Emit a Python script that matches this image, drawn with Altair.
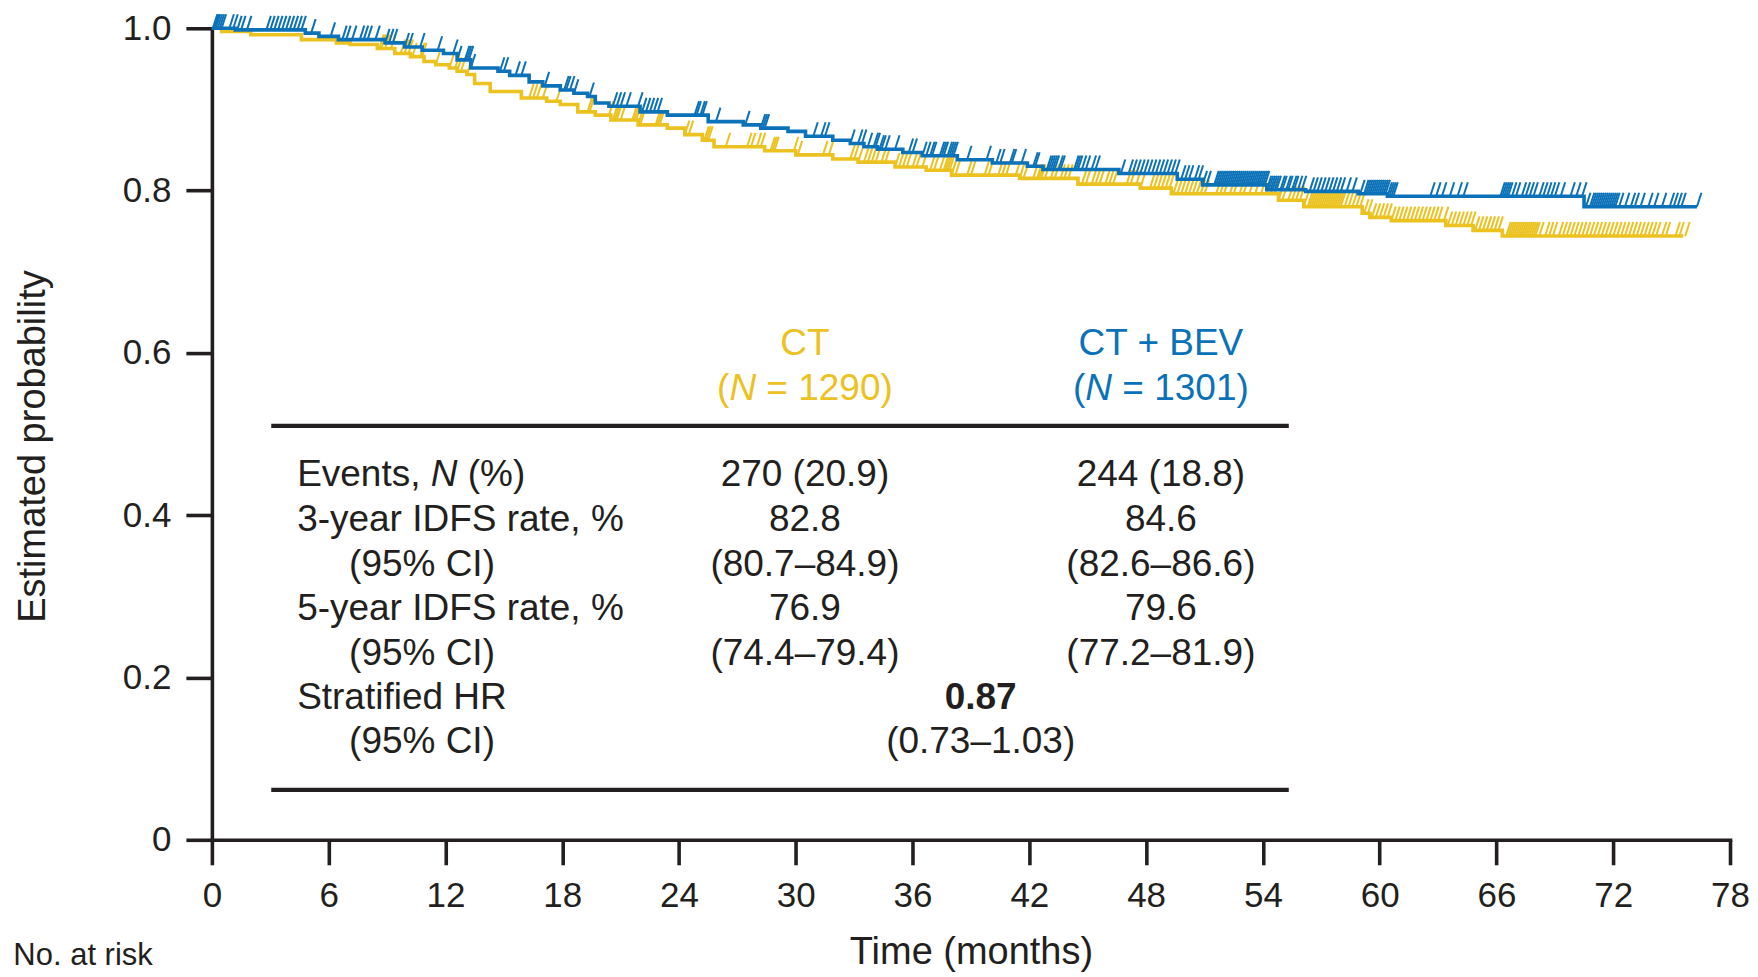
import bisect
import altair as alt
import pandas as pd

# ---------------- data ----------------
ARMS = ["CT", "CT + BEV"]

CT_T = [0, 0.5, 2.0, 4.6, 6.4, 7.1, 8.5, 9.4, 10.2, 10.9, 11.5, 12.2, 12.6, 13.1, 13.5,
        14.3, 15.9, 17.2, 17.9, 18.8, 19.7, 20.5, 21.9, 23.4, 24.3, 25.2, 25.8, 28.4, 30.0,
        31.9, 33.2, 35.1, 36.7, 38.0, 41.5, 44.5, 47.7, 49.3, 54.8, 56.1, 59.1, 59.5, 60.6,
        63.4, 64.8, 66.3]
CT_S = [1.0, 0.996, 0.992, 0.986, 0.982, 0.980, 0.975, 0.969, 0.965, 0.959, 0.955, 0.951,
        0.947, 0.943, 0.932, 0.922, 0.914, 0.910, 0.906, 0.897, 0.893, 0.887, 0.881, 0.877,
        0.869, 0.862, 0.854, 0.849, 0.844, 0.839, 0.835, 0.829, 0.825, 0.819, 0.815, 0.808,
        0.803, 0.796, 0.788, 0.780, 0.772, 0.767, 0.763, 0.757, 0.751, 0.744]
CT_END = 75.6

BEV_T = [0, 1.2, 4.8, 5.5, 6.5, 8.9, 9.9, 10.8, 11.9, 12.6, 13.3, 14.7, 15.3, 16.3, 17.0,
         17.9, 18.6, 19.3, 19.7, 20.4, 22.0, 23.4, 25.5, 27.3, 28.2, 29.6, 30.5, 31.9, 32.8,
         33.5, 34.2, 35.5, 36.5, 38.3, 40.1, 41.9, 42.7, 46.6, 49.6, 50.9, 54.2, 56.2, 58.9,
         60.4, 70.5]
BEV_S = [1.0, 0.998, 0.994, 0.990, 0.986, 0.982, 0.977, 0.973, 0.969, 0.961, 0.951, 0.947,
         0.942, 0.934, 0.929, 0.924, 0.920, 0.916, 0.908, 0.904, 0.897, 0.893, 0.885, 0.881,
         0.877, 0.873, 0.867, 0.862, 0.858, 0.854, 0.851, 0.847, 0.843, 0.838, 0.834, 0.830,
         0.826, 0.821, 0.814, 0.807, 0.801, 0.799, 0.796, 0.793, 0.780]
BEV_END = 76.3

CT_CENSOR = [8.6, 8.7, 8.9, 9.2, 9.7, 9.9, 10.1, 10.3, 10.7, 10.8, 11.5, 12.2, 12.5, 12.6, 12.8,
             13.1, 16.3, 16.5, 16.7, 17.0, 17.7, 19.3, 19.4, 20.4, 20.6, 20.7, 20.8, 21.0, 21.6,
             21.7, 21.8, 21.9, 22.0, 22.8, 22.9, 23.0, 24.3, 24.5, 25.3, 25.4, 25.5, 26.4, 27.5,
             27.7, 28.0, 28.2, 28.7, 28.8, 28.9, 29.9, 30.1, 31.4, 31.7, 32.8, 33.0, 33.2, 33.5,
             33.7, 33.9, 34.1, 34.4, 34.6, 35.1, 35.3, 35.5, 35.7, 36.0, 36.2, 36.5, 36.9, 37.1,
             37.4, 37.6, 37.7, 37.8, 37.9, 38.0, 38.2, 38.8, 39.0, 39.7, 39.9, 40.4, 40.6, 40.8,
             41.3, 41.5, 41.7, 42.2, 42.4, 42.5, 42.6, 42.8, 43.1, 43.3, 43.6, 43.8, 44.0, 44.7,
             44.9, 45.2, 45.4, 45.6, 45.9, 46.1, 46.3, 47.0, 47.2, 47.5, 47.7, 48.2, 48.4, 48.6,
             48.8, 49.0, 49.2, 49.4, 49.6, 49.8, 50.0, 50.2, 50.4, 50.6, 50.8, 51.0, 51.6, 51.8,
             52.0, 52.3, 52.5, 52.8, 53.0, 53.3, 53.6, 53.9, 54.2, 54.4, 54.6, 54.8, 55.0, 55.3,
             55.5, 55.7, 55.9, 56.1, 56.3, 56.4, 56.5, 56.6, 56.7, 56.8, 56.9, 57.0, 57.1, 57.2,
             57.3, 57.4, 57.5, 57.6, 57.7, 57.8, 57.9, 58.0, 58.2, 58.4, 58.6, 58.8, 59.0, 59.2,
             59.4, 59.6, 59.8, 60.0, 60.2, 60.4, 60.6, 60.8, 61.0, 61.2, 61.4, 61.6, 61.8, 62.0,
             62.2, 62.4, 62.6, 62.8, 63.0, 63.3, 63.5, 63.7, 63.9, 64.1, 64.3, 64.5, 64.7, 64.9,
             65.1, 65.3, 65.5, 65.7, 65.9, 66.1, 66.5, 66.6, 66.7, 66.8, 66.9, 67.0, 67.1, 67.2,
             67.3, 67.4, 67.5, 67.6, 67.7, 67.8, 67.9, 68.0, 68.2, 68.5, 68.7, 68.9, 69.2, 69.4,
             69.6, 69.8, 70.0, 70.2, 70.4, 70.6, 70.8, 71.0, 71.2, 71.4, 71.6, 71.8, 72.0, 72.2,
             72.4, 72.6, 72.8, 73.0, 73.2, 73.4, 73.6, 73.8, 74.0, 74.2, 74.5, 74.7, 75.2, 75.4,
             75.7]

BEV_CENSOR = [0.05, 0.1, 0.15, 0.2, 0.3, 0.4, 0.5, 0.9, 1.1, 1.3, 1.5, 1.8, 2.8, 3.0, 3.2, 3.4,
              3.6, 3.8, 4.0, 4.2, 4.4, 4.6, 5.1, 6.1, 6.7, 6.9, 7.2, 7.6, 7.8, 8.0, 8.4, 8.9, 9.1,
              9.3, 9.9, 10.1, 10.7, 11.6, 12.4, 12.6, 13.0, 13.1, 13.2, 13.3, 14.8, 15.0, 15.6,
              15.9, 17.1, 18.1, 18.2, 18.4, 18.6, 19.4, 20.6, 20.8, 21.0, 21.3, 21.9, 22.1, 22.3,
              22.5, 22.7, 22.9, 24.8, 24.9, 25.1, 25.2, 25.9, 27.4, 28.2, 28.3, 28.4, 30.9, 31.3,
              31.5, 32.8, 33.2, 33.4, 33.7, 34.0, 34.1, 34.3, 34.4, 34.6, 35.1, 35.8, 36.0, 36.5,
              36.7, 36.9, 37.0, 37.4, 37.5, 37.6, 37.8, 37.9, 38.0, 38.1, 38.8, 39.8, 40.3, 40.5,
              41.0, 41.1, 41.6, 42.2, 42.3, 42.9, 43.0, 43.1, 43.2, 43.3, 43.5, 43.6, 44.3, 44.4,
              44.5, 44.7, 44.9, 45.2, 45.4, 46.7, 47.1, 47.3, 47.5, 47.7, 47.9, 48.1, 48.3, 48.5,
              48.7, 48.9, 49.1, 49.3, 49.5, 49.8, 50.0, 50.2, 50.5, 50.7, 50.9, 51.1, 51.5, 51.6,
              51.7, 51.8, 51.9, 52.0, 52.1, 52.2, 52.3, 52.4, 52.5, 52.6, 52.7, 52.8, 52.9, 53.0,
              53.1, 53.2, 53.3, 53.4, 53.5, 53.6, 53.7, 53.8, 53.9, 54.0, 54.1, 54.2, 54.3, 54.4,
              54.5, 54.6, 54.7, 54.9, 55.0, 55.2, 55.3, 55.5, 55.6, 55.8, 56.0, 56.4, 56.6, 56.8,
              57.0, 57.2, 57.4, 57.6, 57.8, 58.0, 58.3, 58.6, 59.0, 59.2, 59.3, 59.4, 59.5, 59.6,
              59.7, 59.8, 59.9, 60.0, 60.1, 60.2, 60.3, 60.4, 60.5, 60.6, 60.7, 62.6, 62.9, 63.2,
              63.6, 64.0, 64.3, 66.2, 66.3, 66.4, 66.5, 66.6, 66.8, 67.0, 67.3, 67.5, 67.7, 67.9,
              68.2, 68.4, 68.6, 68.8, 69.0, 69.3, 69.8, 70.1, 70.4, 70.6, 70.8, 70.9, 71.0, 71.1,
              71.2, 71.3, 71.4, 71.5, 71.6, 71.7, 71.8, 71.9, 72.0, 72.1, 72.3, 72.6, 72.9, 73.1,
              73.4, 73.8, 74.1, 74.5, 74.9, 75.1, 75.3, 75.5, 76.3]

X_TICKS = [0, 6, 12, 18, 24, 30, 36, 42, 48, 54, 60, 66, 72, 78]
Y_TICKS = [0, 0.2, 0.4, 0.6, 0.8, 1.0]

HEADERS = ["CT", "CT + BEV"]
HEADER_N = ["1290", "1301"]
ROW_LABELS = ["Events, N (%)", "3-year IDFS rate, %", "(95% CI)", "5-year IDFS rate, %",
              "(95% CI)", "Stratified HR", "(95% CI)"]
CT_VALUES = ["270 (20.9)", "82.8", "(80.7–84.9)", "76.9", "(74.4–79.4)"]
BEV_VALUES = ["244 (18.8)", "84.6", "(82.6–86.6)", "79.6", "(77.2–81.9)"]
HR_VALUE = "0.87"
HR_CI = "(0.73–1.03)"

# ---------------- style / layout ----------------
YEL = "#EBC21F"
BLU = "#0B72B9"
INK = "#231F20"
FONT = "Liberation Sans"
W, H = 1519, 812
PPM = W / 78.0          # pixels per month
TFS = 37                # table font size

# table anchor positions (months / probability)
LEFT_X, INDENT_X = 4.38, 7.05
CT_X, BEV_X, HR_X = 30.47, 48.76, 39.5
RULE_X0, RULE_X1 = 3.05, 55.33
RULE_Y = [0.510, 0.0616]
HEAD_Y, N_Y = 0.614, 0.558
ROW_Y = [0.452, 0.396, 0.341, 0.287, 0.231, 0.177, 0.123]

# Arial / Liberation Sans advance widths (em)
AW = {' ': 0.278, '(': 0.333, ')': 0.333, 'N': 0.722, '=': 0.584, ',': 0.278, '%': 0.889,
      'E': 0.667, 'v': 0.5, 'e': 0.556, 'n': 0.556, 't': 0.278, 's': 0.5}
for d in "0123456789":
    AW[d] = 0.556


def tw(s):
    return sum(AW.get(c, 0.556) for c in s) * TFS / PPM   # width in months


# ---------------- build frames ----------------
def curve_df(arm, ts, ss, end):
    return pd.DataFrame({"t": ts + [end], "s": ss + [ss[-1]], "arm": arm})


def censor_df(arm, ts, ss, cens):
    vals = [ss[bisect.bisect_right(ts, c) - 1] for c in cens]
    return pd.DataFrame({"t": cens, "s": vals, "arm": arm})


ct_line = curve_df("CT", CT_T, CT_S, CT_END)
bev_line = curve_df("CT + BEV", BEV_T, BEV_S, BEV_END)
ct_cens = censor_df("CT", CT_T, CT_S, CT_CENSOR)
bev_cens = censor_df("CT + BEV", BEV_T, BEV_S, BEV_CENSOR)

xscale = alt.Scale(domain=[0, 78], nice=False, zero=False)
yscale = alt.Scale(domain=[0, 1], nice=False)

xaxis = alt.Axis(values=X_TICKS, title="Time (months)", labelFlush=False, labelOverlap=False,
                 tickSize=25, labelPadding=14, titleY=124, titleBaseline="alphabetic",
                 labelFontSize=35, titleFontSize=38)
yaxis = alt.Axis(values=Y_TICKS, title="Estimated probability", labelFlush=False,
                 labelOverlap=False,
                 labelExpr="datum.value == 0 ? '0' : format(datum.value, '.1f')",
                 tickSize=26, labelPadding=15, titleX=-167, titleY=418,
                 titleBaseline="alphabetic", titleAlign="center",
                 labelFontSize=35, titleFontSize=38)


def X(field):
    return alt.X(field, scale=xscale, axis=xaxis)


def Y(field):
    return alt.Y(field, scale=yscale, axis=yaxis)


def line_layer(df, color):
    return alt.Chart(df).mark_line(interpolate="step-after", strokeWidth=3.6,
                                   color=color).encode(x=X("t:Q"), y=Y("s:Q"))


def censor_layer(df, color):
    return alt.Chart(df).mark_point(shape="M0,0L0.32,-1", size=784, filled=False,
                                    strokeWidth=2, opacity=1, color=color).encode(
        x=X("t:Q"), y=Y("s:Q"))


# table text pieces
pieces = []   # text, x, y, align, style, color


def add(text, x, y, align="left", style="normal", color=INK):
    pieces.append(dict(text=text, x=x, y=y, align=align, style=style, color=color))


for hx, name, n, col in [(CT_X, HEADERS[0], HEADER_N[0], YEL), (BEV_X, HEADERS[1], HEADER_N[1], BLU)]:
    add(name, hx, HEAD_Y, "center", "normal", col)
    p1, p2, p3 = "(", "N", "= " + n + ")"
    total = tw(p1) + tw(p2 + " ") + tw(p3)
    x0 = hx - total / 2
    add(p1, x0, N_Y, "left", "normal", col)
    add(p2, x0 + tw(p1), N_Y, "left", "italic", col)
    add(p3, x0 + tw(p1) + tw(p2 + " "), N_Y, "left", "normal", col)

# row labels
add("Events,", LEFT_X, ROW_Y[0])
add("N", LEFT_X + tw("Events, "), ROW_Y[0], "left", "italic")
add("(%)", LEFT_X + tw("Events, N "), ROW_Y[0])
for i in range(1, 7):
    lx = INDENT_X if ROW_LABELS[i].startswith("(") else LEFT_X
    add(ROW_LABELS[i], lx, ROW_Y[i])
for i in range(5):
    add(CT_VALUES[i], CT_X, ROW_Y[i], "center")
    add(BEV_VALUES[i], BEV_X, ROW_Y[i], "center")
add(HR_VALUE, HR_X, ROW_Y[5], "center", "bold")
add(HR_CI, HR_X, ROW_Y[6], "center")

tdf = pd.DataFrame(pieces)


def text_layer(style, align):
    sub = tdf[(tdf["style"] == style) & (tdf["align"] == align)]
    kw = dict(align=align, baseline="middle", dy=2, fontSize=TFS, font=FONT)
    if style == "italic":
        kw["fontStyle"] = "italic"
    if style == "bold":
        kw["fontWeight"] = "bold"
    return alt.Chart(sub).mark_text(**kw).encode(
        x=X("x:Q"), y=Y("y:Q"),
        text="text:N",
        color=alt.Color("color:N", scale=None),
    )


text_layers = []
for st in ["normal", "italic", "bold"]:
    for al in ["left", "center"]:
        if len(tdf[(tdf["style"] == st) & (tdf["align"] == al)]):
            text_layers.append(text_layer(st, al))

rules_df = pd.DataFrame({"x0": [RULE_X0] * 2, "x1": [RULE_X1] * 2, "y": RULE_Y})
rules = alt.Chart(rules_df).mark_rule(strokeWidth=4.3, color=INK).encode(
    x=X("x0:Q"), x2="x1:Q", y=Y("y:Q"),
)

risk_df = pd.DataFrame({"text": ["No. at risk"], "x": [-10.2], "y": [-0.154]})
risk = alt.Chart(risk_df).mark_text(align="left", baseline="alphabetic", fontSize=31,
                                    font=FONT, color=INK).encode(
    x=X("x:Q"), y=Y("y:Q"), text="text:N",
)

chart = alt.layer(
    line_layer(ct_line, YEL),
    censor_layer(ct_cens, YEL),
    line_layer(bev_line, BLU),
    censor_layer(bev_cens, BLU),
    rules,
    *text_layers,
    risk,
).properties(
    width=W, height=H,
    autosize=alt.AutoSizeParams(type="none"),
    padding={"left": 204, "top": 20, "right": 20, "bottom": 150},
    background="white",
).configure_view(stroke=None).configure_axis(
    domainColor=INK, tickColor=INK, labelColor=INK, titleColor=INK,
    domainWidth=3.6, tickWidth=3.6, domainCap="square", grid=False,
    labelFont=FONT, titleFont=FONT, titleFontWeight="normal",
).configure_text(font=FONT)

chart.save("out.html", embed_options={"renderer": "svg", "actions": False})
